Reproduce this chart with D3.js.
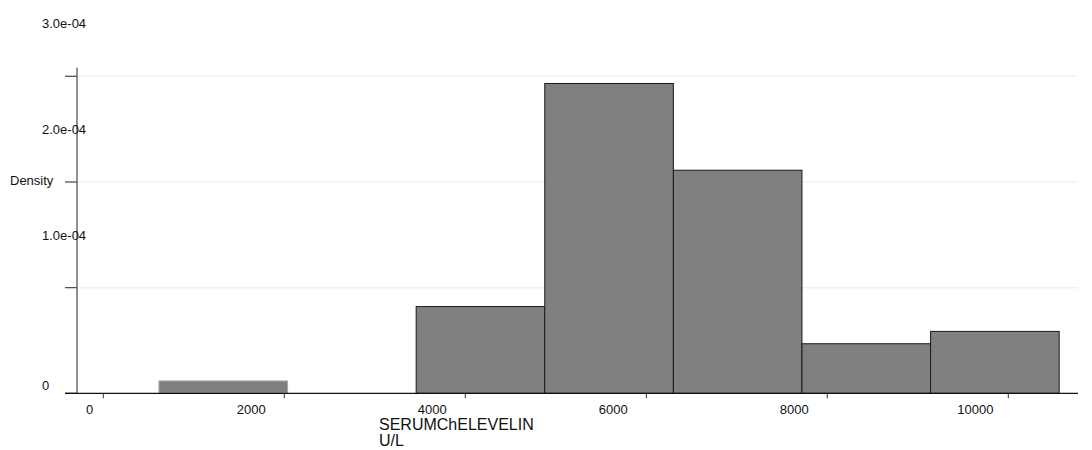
<!DOCTYPE html>
<html>
<head>
<meta charset="utf-8">
<script src="https://cdn.jsdelivr.net/npm/d3@7"></script>
<style>
  html, body { margin: 0; padding: 0; background: #ffffff; }
  svg { display: block; font-family: "Liberation Sans", Arial, Helvetica, sans-serif; }
</style>
</head>
<body>
<svg id="chart" width="1092" height="450"></svg>
<script>
// ---- data ----
const binEdges = [615, 2036, 3457, 4878, 6299, 7720, 9141, 10562];
const densities = [1.17e-5, 0, 8.21e-5, 2.932e-4, 2.111e-4, 4.69e-5, 5.86e-5];
const xTicks = [0, 2000, 4000, 6000, 8000, 10000];
const xTickLabels = ["0", "2000", "4000", "6000", "8000", "10000"];
const yTicks = [0, 1e-4, 2e-4, 3e-4];
const yTickLabels = ["0", "1.0e-04", "2.0e-04", "3.0e-04"];
const xTitleLines = ["SERUMChELEVELIN", "U/L"];
const yTitle = "Density";

const bins = densities.map((d, i) => ({ x0: binEdges[i], x1: binEdges[i + 1], d }));

const svg = d3.select("#chart");

const x = d3.scaleLinear().domain([0, 10000]).range([103.3, 1008.3]);
const y = d3.scaleLinear().domain([0, 3e-4]).range([393.3, 76.3]);

const plotLeft = 77, plotRight = 1078;

// gridlines
svg.append("g").selectAll("line")
  .data(yTicks.filter(v => v > 0))
  .join("line")
  .attr("x1", plotLeft).attr("x2", plotRight)
  .attr("y1", d => y(d)).attr("y2", d => y(d))
  .attr("stroke", "#edf3f3").attr("stroke-width", 1.5);

// bars
svg.append("g").selectAll("rect")
  .data(bins.filter(b => b.d > 0))
  .join("rect")
  .attr("x", b => x(b.x0))
  .attr("width", b => x(b.x1) - x(b.x0))
  .attr("y", b => y(b.d))
  .attr("height", b => y(0) - y(b.d))
  .attr("fill", "#808080")
  .attr("stroke", b => (y(0) - y(b.d) < 20 ? "#a8a8a8" : "#1a1a1a"))
  .attr("stroke-width", 1);

// y axis line
svg.append("line")
  .attr("x1", plotLeft).attr("x2", plotLeft)
  .attr("y1", y(3e-4) - 8.5).attr("y2", y(0))
  .attr("stroke", "#555").attr("stroke-width", 1.3);

// y ticks
svg.append("g").selectAll("line")
  .data(yTicks)
  .join("line")
  .attr("x1", 65).attr("x2", plotLeft)
  .attr("y1", d => y(d)).attr("y2", d => y(d))
  .attr("stroke", "#555").attr("stroke-width", 1.3);

// y tick labels (offset as in reference)
svg.append("g").selectAll("text")
  .data(yTicks)
  .join("text")
  .attr("x", 42)
  .attr("y", (d, i) => d === 0 ? y(d) - 7.6 : y(d) - 52.5)
  .attr("dominant-baseline", "central")
  .attr("font-size", 13)
  .attr("fill", "#111")
  .text((d, i) => yTickLabels[i]);

// x axis line
svg.append("line")
  .attr("x1", 65).attr("x2", plotRight)
  .attr("y1", y(0)).attr("y2", y(0))
  .attr("stroke", "#111").attr("stroke-width", 1.3);

// x ticks
svg.append("g").selectAll("line")
  .data(xTicks)
  .join("line")
  .attr("x1", d => x(d)).attr("x2", d => x(d))
  .attr("y1", y(0)).attr("y2", y(0) + 5)
  .attr("stroke", "#333").attr("stroke-width", 1);

// x tick labels (offset as in reference)
svg.append("g").selectAll("text")
  .data(xTicks)
  .join("text")
  .attr("x", (d, i) => d === 0 ? x(d) - 13.6 : x(d) - 33)
  .attr("y", 409.5)
  .attr("text-anchor", "middle")
  .attr("dominant-baseline", "central")
  .attr("font-size", 13)
  .attr("fill", "#111")
  .text((d, i) => xTickLabels[i]);

// y title
svg.append("text")
  .attr("x", 10).attr("y", 180)
  .attr("dominant-baseline", "central")
  .attr("font-size", 13)
  .attr("fill", "#111")
  .text(yTitle);

// x title (two lines)
svg.append("g").selectAll("text")
  .data(xTitleLines)
  .join("text")
  .attr("x", 379)
  .attr("y", (d, i) => 429.8 + i * 16.2)
  .attr("font-size", 16)
  .attr("fill", "#111")
  .text(d => d);
</script>
</body>
</html>
